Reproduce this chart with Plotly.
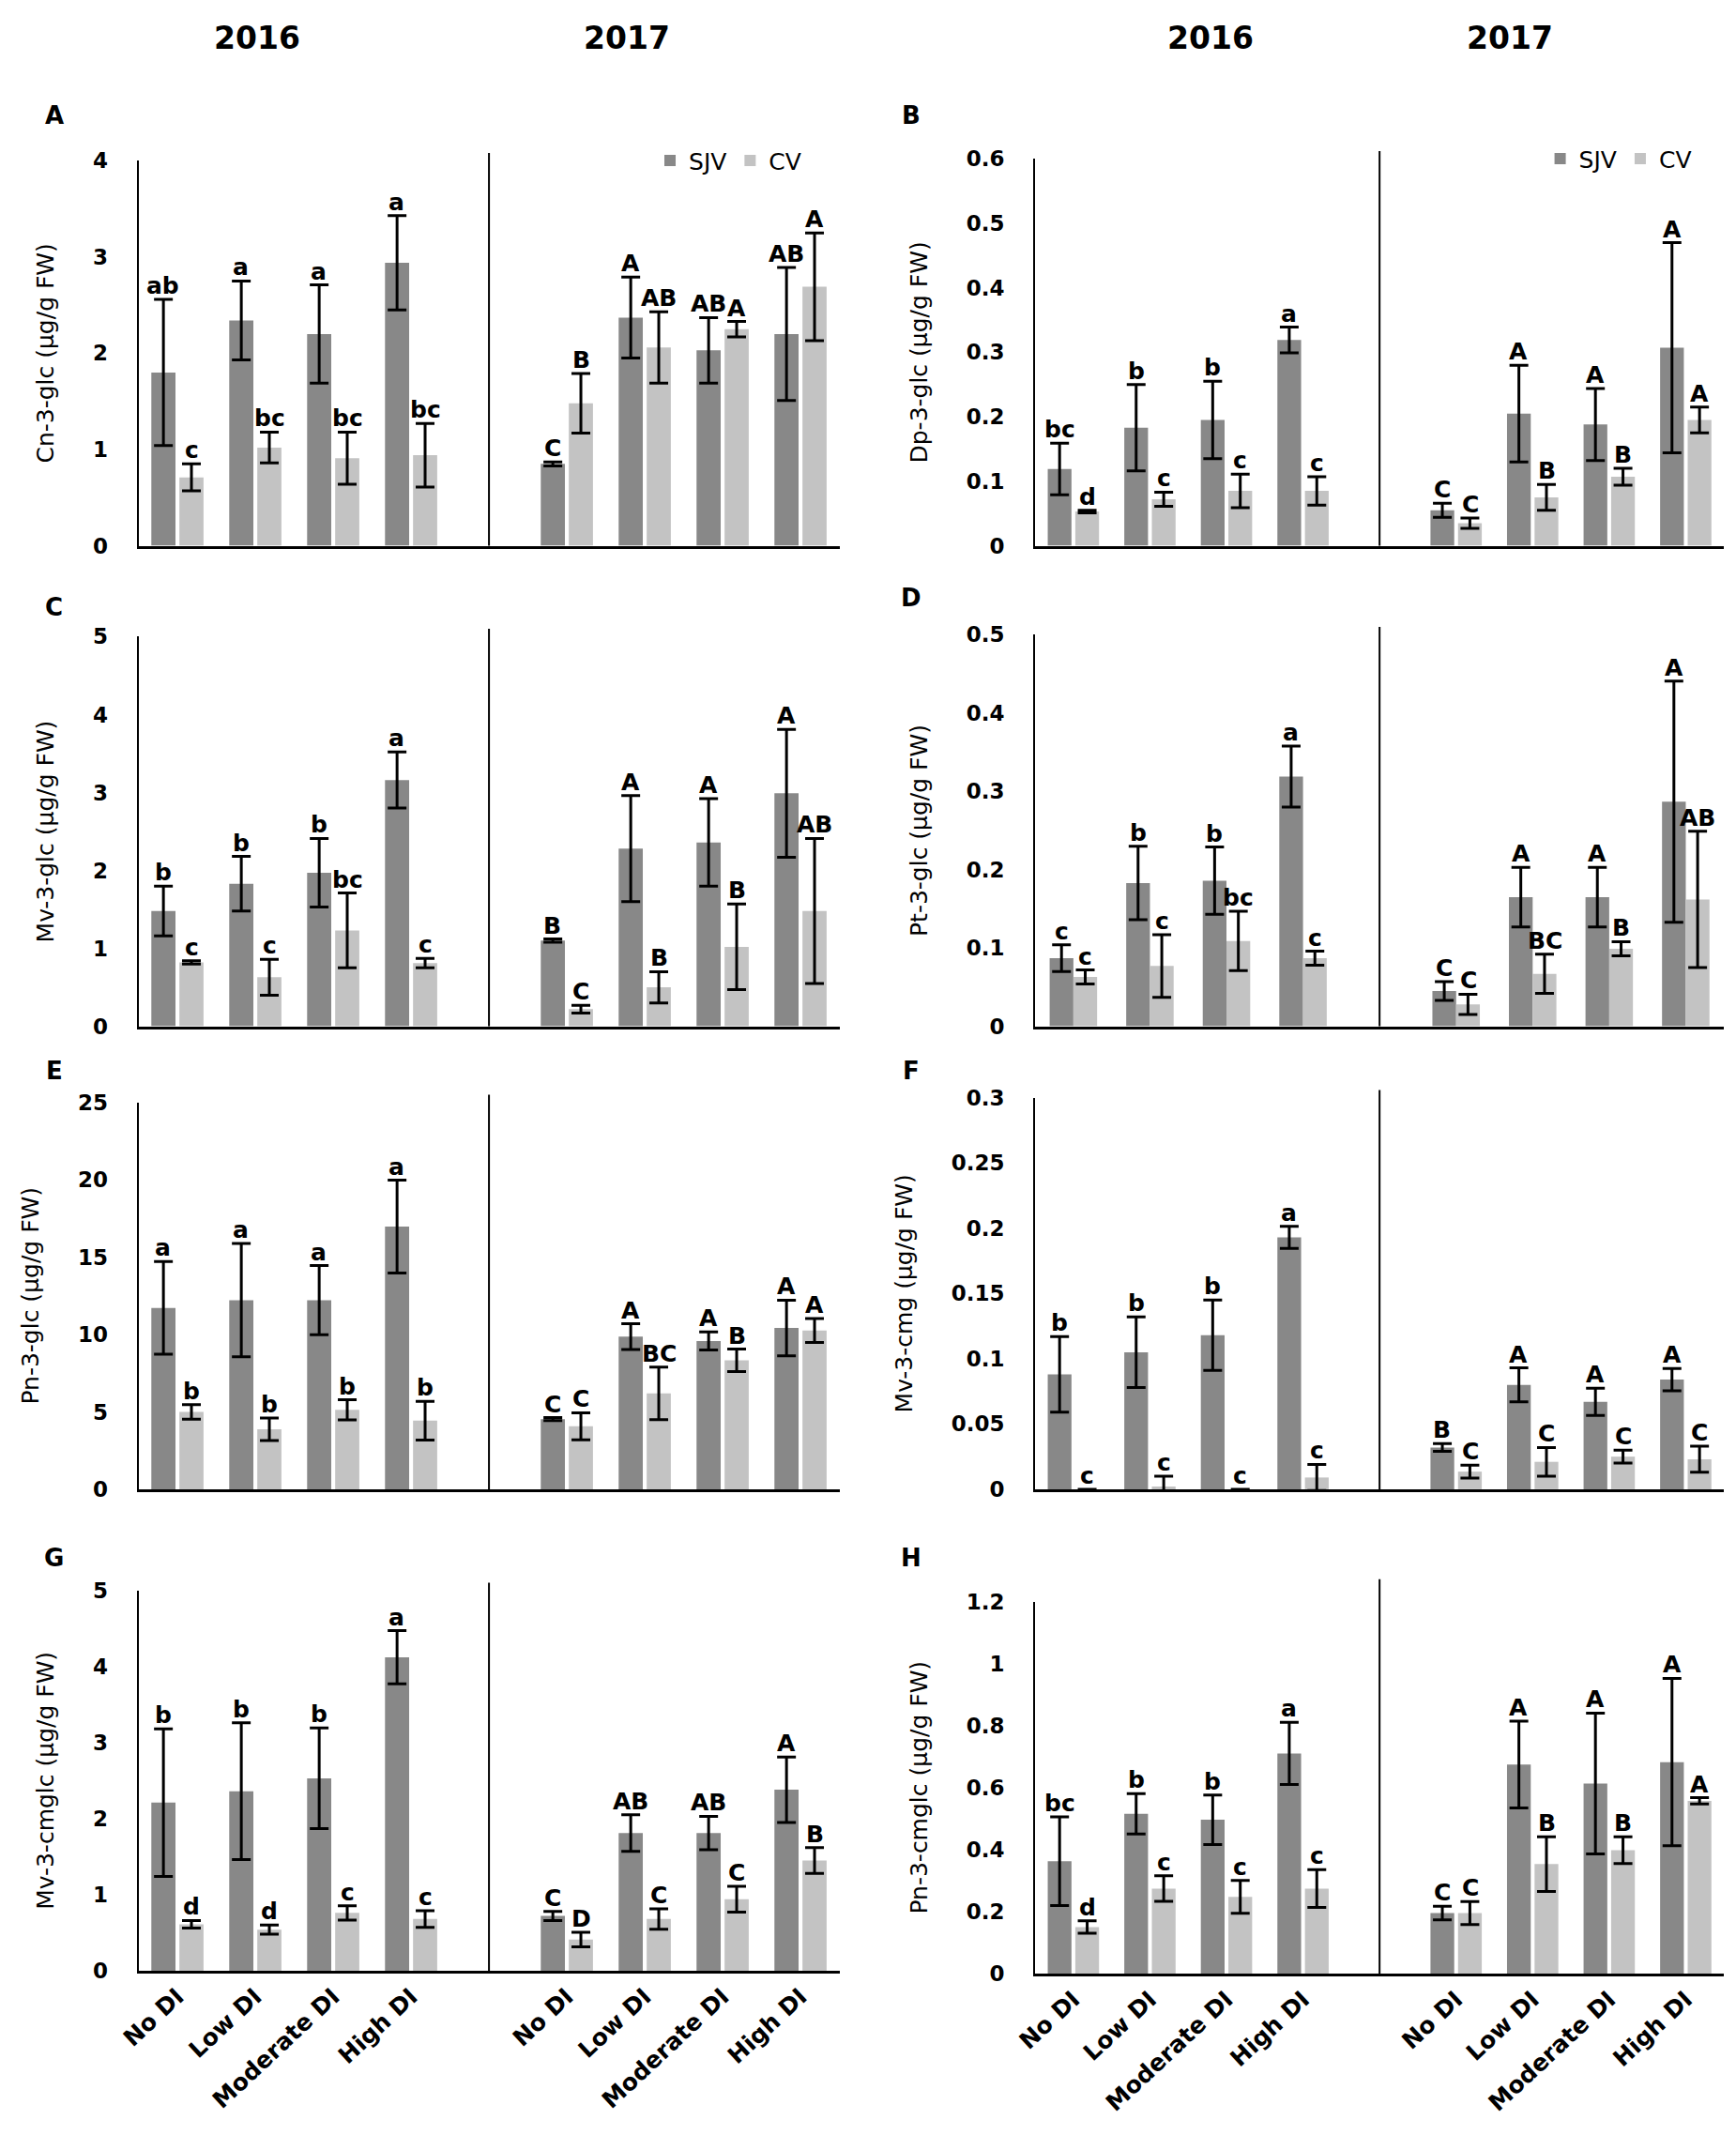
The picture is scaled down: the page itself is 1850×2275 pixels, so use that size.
import plotly.graph_objects as go

# ---- data ----
treatments = ["No DI", "Low DI", "Moderate DI", "High DI"]
years = ["2016", "2017"]
panel_letters = ["A", "B", "C", "D", "E", "F", "G", "H"]
compounds = ["Cn-3-glc", "Dp-3-glc", "Mv-3-glc", "Pt-3-glc",
             "Pn-3-glc", "Mv-3-cmg", "Mv-3-cmglc", "Pn-3-cmglc"]

# order in every list: 2016 No/Low/Moderate/High, then 2017 No/Low/Moderate/High
cn_sjv = [1.80, 2.34, 2.20, 2.94, 0.85, 2.37, 2.03, 2.20]
cn_sjv_se = [0.76, 0.41, 0.51, 0.49, 0.02, 0.42, 0.34, 0.69]
cn_cv = [0.71, 1.02, 0.91, 0.94, 1.48, 2.06, 2.25, 2.69]
cn_cv_se = [0.14, 0.16, 0.27, 0.33, 0.31, 0.37, 0.08, 0.56]
cn_sjv_let = ["ab", "a", "a", "a", "C", "A", "AB", "AB"]
cn_cv_let = ["c", "bc", "bc", "bc", "B", "AB", "A", "A"]

dp_sjv = [0.119, 0.183, 0.195, 0.319, 0.055, 0.205, 0.188, 0.307]
dp_sjv_se = [0.040, 0.067, 0.060, 0.020, 0.011, 0.075, 0.056, 0.163]
dp_cv = [0.053, 0.072, 0.085, 0.085, 0.035, 0.075, 0.107, 0.195]
dp_cv_se = [0.002, 0.011, 0.026, 0.022, 0.008, 0.020, 0.013, 0.020]
dp_sjv_let = ["bc", "b", "b", "a", "C", "A", "A", "A"]
dp_cv_let = ["d", "c", "c", "c", "C", "B", "B", "A"]

mv_sjv = [1.48, 1.83, 1.97, 3.16, 1.10, 2.28, 2.36, 2.99]
mv_sjv_se = [0.32, 0.35, 0.44, 0.36, 0.02, 0.68, 0.56, 0.82]
mv_cv = [0.82, 0.63, 1.23, 0.81, 0.22, 0.50, 1.02, 1.48]
mv_cv_se = [0.02, 0.23, 0.48, 0.06, 0.05, 0.20, 0.55, 0.93]
mv_sjv_let = ["b", "b", "b", "a", "B", "A", "A", "A"]
mv_cv_let = ["c", "c", "bc", "c", "C", "B", "B", "AB"]

pt_sjv = [0.087, 0.183, 0.186, 0.319, 0.045, 0.165, 0.165, 0.287]
pt_sjv_se = [0.017, 0.047, 0.043, 0.039, 0.012, 0.038, 0.038, 0.154]
pt_cv = [0.063, 0.077, 0.109, 0.087, 0.028, 0.067, 0.099, 0.162]
pt_cv_se = [0.009, 0.040, 0.038, 0.009, 0.013, 0.025, 0.009, 0.087]
pt_sjv_let = ["c", "b", "b", "a", "C", "A", "A", "A"]
pt_cv_let = ["c", "c", "bc", "c", "C", "BC", "B", "AB"]

pn_sjv = [11.72, 12.22, 12.22, 16.97, 4.53, 9.86, 9.58, 10.42]
pn_sjv_se = [3.00, 3.66, 2.23, 3.00, 0.10, 0.83, 0.58, 1.80]
pn_cv = [4.99, 3.87, 5.13, 4.43, 4.07, 6.19, 8.33, 10.26]
pn_cv_se = [0.47, 0.73, 0.65, 1.25, 0.87, 1.70, 0.73, 0.77]
pn_sjv_let = ["a", "a", "a", "a", "C", "A", "A", "A"]
pn_cv_let = ["b", "b", "b", "b", "C", "BC", "B", "A"]

mvc_sjv = [0.088, 0.105, 0.118, 0.193, 0.032, 0.080, 0.067, 0.084]
mvc_sjv_se = [0.029, 0.027, 0.027, 0.0085, 0.003, 0.013, 0.0105, 0.0085]
mvc_cv = [0.0, 0.002, 0.0, 0.009, 0.0135, 0.021, 0.025, 0.023]
mvc_cv_se = [0.0, 0.008, 0.0, 0.010, 0.005, 0.011, 0.005, 0.010]
mvc_sjv_let = ["b", "b", "b", "a", "B", "A", "A", "A"]
mvc_cv_let = ["c", "c", "c", "c", "C", "C", "C", "C"]

mvcg_sjv = [2.21, 2.36, 2.53, 4.12, 0.72, 1.81, 1.81, 2.38]
mvcg_sjv_se = [0.97, 0.90, 0.66, 0.35, 0.06, 0.24, 0.22, 0.43]
mvcg_cv = [0.61, 0.54, 0.76, 0.68, 0.41, 0.68, 0.94, 1.45]
mvcg_cv_se = [0.05, 0.06, 0.095, 0.11, 0.095, 0.135, 0.17, 0.17]
mvcg_sjv_let = ["b", "b", "b", "a", "C", "AB", "AB", "A"]
mvcg_cv_let = ["d", "d", "c", "c", "D", "C", "C", "B"]

pncg_sjv = [0.362, 0.515, 0.496, 0.710, 0.195, 0.674, 0.613, 0.682]
pncg_sjv_se = [0.143, 0.065, 0.080, 0.100, 0.022, 0.140, 0.227, 0.270]
pncg_cv = [0.150, 0.274, 0.247, 0.274, 0.195, 0.353, 0.398, 0.557]
pncg_cv_se = [0.020, 0.041, 0.053, 0.061, 0.037, 0.088, 0.043, 0.010]
pncg_sjv_let = ["bc", "b", "b", "a", "C", "A", "A", "A"]
pncg_cv_let = ["d", "c", "c", "c", "C", "B", "B", "A"]

# y-axis tick labels per panel
cn_ticks = [0, 1, 2, 3, 4]
dp_ticks = [0, 0.1, 0.2, 0.3, 0.4, 0.5, 0.6]
mv_ticks = [0, 1, 2, 3, 4, 5]
pt_ticks = [0, 0.1, 0.2, 0.3, 0.4, 0.5]
pn_ticks = [0, 5, 10, 15, 20, 25]
mvc_ticks = [0, 0.05, 0.1, 0.15, 0.2, 0.25, 0.3]
mvcg_ticks = [0, 1, 2, 3, 4, 5]
pncg_ticks = [0, 0.2, 0.4, 0.6, 0.8, 1, 1.2]

sjv = [cn_sjv, dp_sjv, mv_sjv, pt_sjv, pn_sjv, mvc_sjv, mvcg_sjv, pncg_sjv]
sjv_se = [cn_sjv_se, dp_sjv_se, mv_sjv_se, pt_sjv_se, pn_sjv_se, mvc_sjv_se, mvcg_sjv_se, pncg_sjv_se]
sjv_let = [cn_sjv_let, dp_sjv_let, mv_sjv_let, pt_sjv_let, pn_sjv_let, mvc_sjv_let, mvcg_sjv_let, pncg_sjv_let]
cv = [cn_cv, dp_cv, mv_cv, pt_cv, pn_cv, mvc_cv, mvcg_cv, pncg_cv]
cv_se = [cn_cv_se, dp_cv_se, mv_cv_se, pt_cv_se, pn_cv_se, mvc_cv_se, mvcg_cv_se, pncg_cv_se]
cv_let = [cn_cv_let, dp_cv_let, mv_cv_let, pt_cv_let, pn_cv_let, mvc_cv_let, mvcg_cv_let, pncg_cv_let]
y_ticks = [cn_ticks, dp_ticks, mv_ticks, pt_ticks, pn_ticks, mvc_ticks, mvcg_ticks, pncg_ticks]

# ---- layout geometry (pixels of the 1850x2275 page) ----
W, H = 1850, 2275
col_x = [(119, 875), (1086, 1829)]
panel_y = [(152, 567), (150, 567), (665, 1085), (663, 1085),
           (1167, 1584), (1162, 1584), (1693, 2103), (1705, 2106)]
letter_pos = [(28, 103), (952, 103), (28, 633), (952, 623),
              (28, 1133), (952, 1133), (28, 1658), (952, 1658)]
bar_w = [0.31, 0.31, 0.31, 0.31, 0.31, 0.31, 0.31, 0.31]
bar_gap = [0.05, 0.05, 0.05, 0.0, 0.05, 0.05, 0.05, 0.05]

FONT = "'DejaVu Sans', sans-serif"
DARK = "#888888"
LIGHT = "#c3c3c3"

cats = [f"{y} {t}" for y in years for t in treatments]
axis_cats = cats[:4] + ["gap"] + cats[4:]

fig = go.Figure()
annotations = []
shapes = []
layout = {}

for i in range(8):
    n = "" if i == 0 else str(i + 1)
    xa, ya = "x" + n, "y" + n
    x0, x1 = col_x[i % 2]
    yt, yb = panel_y[i]
    w, g = bar_w[i], bar_gap[i]
    px_cat = (x1 - x0) / 9.0

    series = [
        ("SJV", sjv[i], sjv_se[i], sjv_let[i], DARK, -(w + g / 2)),
        ("CV", cv[i], cv_se[i], cv_let[i], LIGHT, g / 2),
    ]
    for name, vals, errs, lets, color, off in series:
        fig.add_trace(go.Bar(
            x=cats, y=vals, name=name,
            width=w, offset=off,
            marker=dict(color=color, line=dict(width=0)),
            error_y=dict(type="data", array=errs, visible=True,
                         color="black", thickness=3, width=10),
            xaxis=xa, yaxis=ya,
            showlegend=i < 2,
            legend="legend" if i == 0 else "legend2",
        ))
        shift = (off + w / 2) * px_cat
        for c, v, e, t in zip(cats, vals, errs, lets):
            annotations.append(dict(
                x=c, y=v + e, xref=xa, yref=ya, text=t, showarrow=False,
                xanchor="center", yanchor="bottom", xshift=shift, yshift=-2,
                font=dict(family=FONT, size=25, color="black", weight="bold"),
            ))

    layout["xaxis" + n] = dict(
        domain=[x0 / W, x1 / W], anchor=ya,
        type="category", categoryorder="array", categoryarray=axis_cats,
        range=[-0.5, 8.5],
        tickmode="array", tickvals=cats, ticktext=treatments * 2,
        showticklabels=i >= 6, tickangle=-43,
        tickfont=dict(family=FONT, size=25, color="black", weight="bold"),
        showline=True, linewidth=3, linecolor="black",
        showgrid=False, zeroline=False, ticks="",
    )
    layout["yaxis" + n] = dict(
        domain=[1 - yb / H, 1 - yt / H], anchor=xa,
        range=[0, y_ticks[i][-1]],
        tickmode="array", tickvals=y_ticks[i],
        tickfont=dict(family=FONT, size=23, color="black", weight="bold"),
        ticklabelstandoff=26,
        showline=True, linewidth=2, linecolor="black",
        showgrid=False, zeroline=False, ticks="",
        title=dict(text=f"{compounds[i]} (µg/g FW)", standoff=34,
                   font=dict(family=FONT, size=25, color="black")),
    )
    # divider between 2016 and 2017
    shapes.append(dict(
        type="line", xref=xa + " domain", yref=ya + " domain",
        x0=0.5, x1=0.5, y0=0, y1=1.06 if i == 7 else 1.02,
        line=dict(color="black", width=2),
    ))
    lx, ly = letter_pos[i]
    annotations.append(dict(
        x=lx / W, y=1 - ly / H, xref="paper", yref="paper",
        text=panel_letters[i], showarrow=False,
        xanchor="center", yanchor="middle",
        font=dict(family=FONT, size=26, color="black", weight="bold"),
    ))

for px, label in [(247, "2016"), (646, "2017"), (1275, "2016"), (1598, "2017")]:
    annotations.append(dict(
        x=px / W, y=1 - 20 / H, xref="paper", yref="paper",
        text=label, showarrow=False, xanchor="center", yanchor="middle",
        font=dict(family=FONT, size=33, color="black", weight="bold"),
    ))

legend_style = dict(
    orientation="h", xanchor="left", yanchor="middle",
    font=dict(family=FONT, size=25, color="black"),
    bgcolor="rgba(0,0,0,0)", itemclick=False,
)
fig.update_layout(
    width=W, height=H,
    margin=dict(l=0, r=0, t=0, b=0),
    paper_bgcolor="white", plot_bgcolor="white",
    barmode="group",
    annotations=annotations, shapes=shapes,
    legend=dict(x=672 / W, y=1 - 152 / H, **legend_style),
    legend2=dict(x=1632 / W, y=1 - 150 / H, **legend_style),
    **layout,
)

fig.write_html("out.html")
